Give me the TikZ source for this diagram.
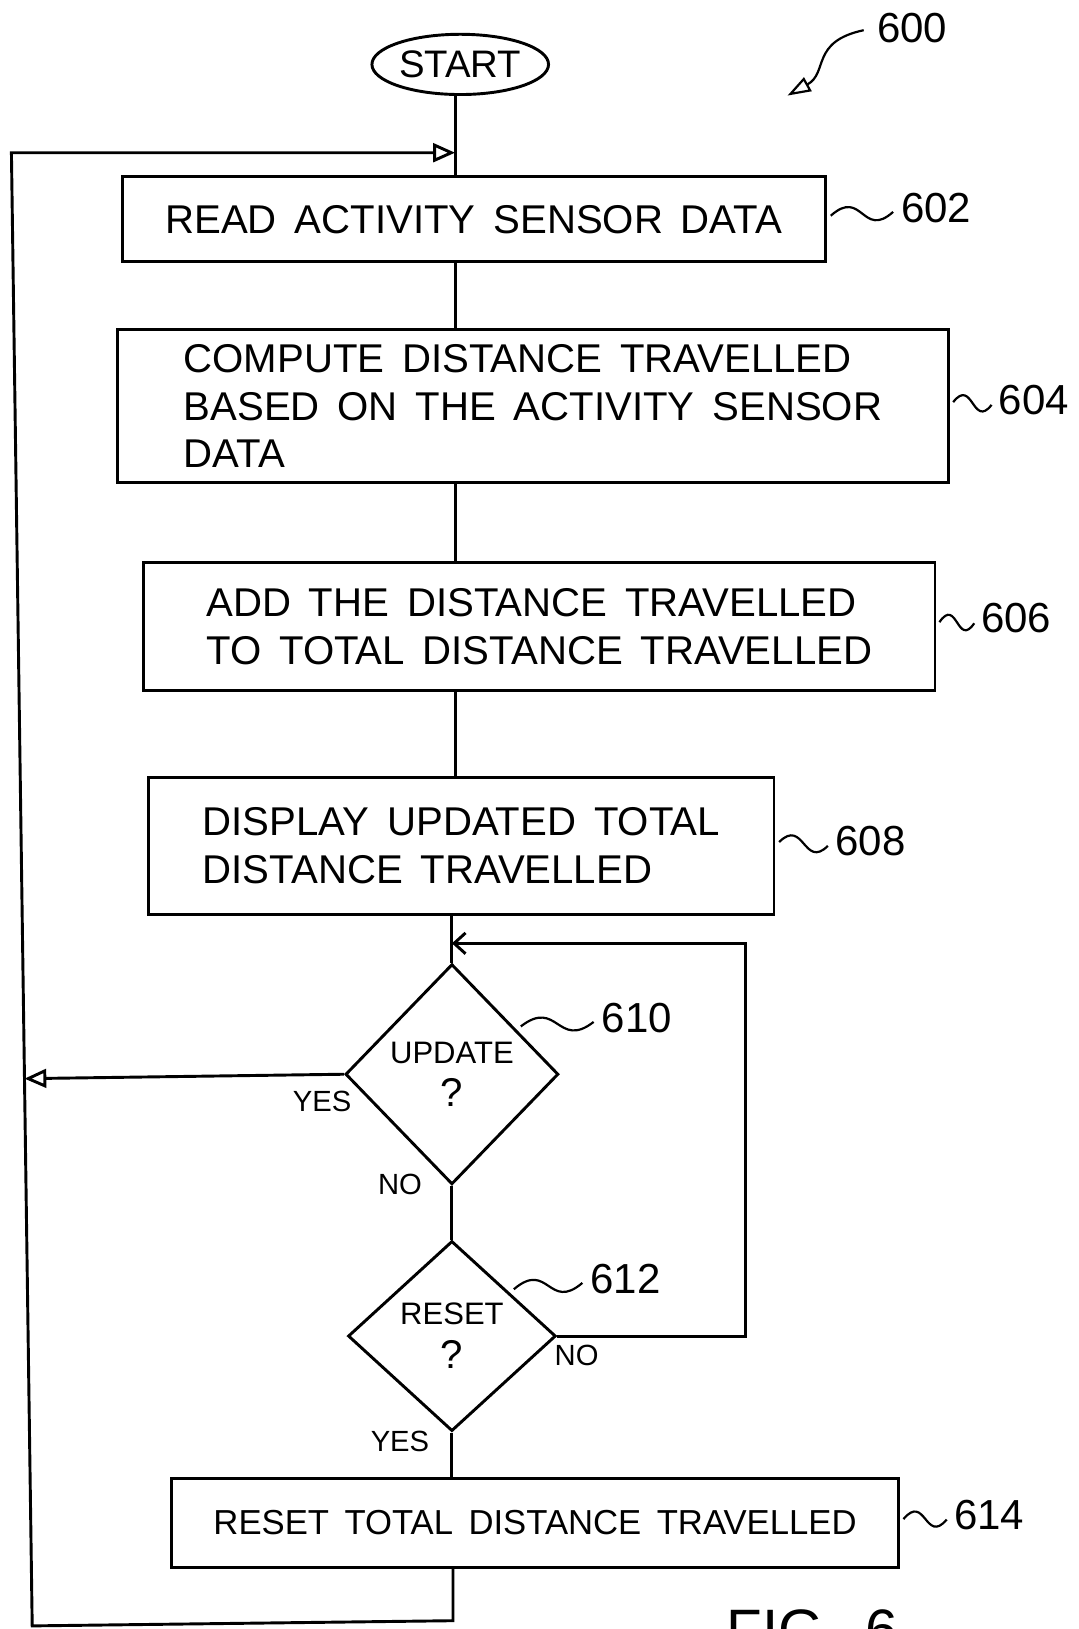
\documentclass[tikz,border=0pt]{standalone}
\usepackage{fontspec}
\setmainfont{Liberation Sans}[WordSpace=1.6]
\usetikzlibrary{arrows.meta, calc, shapes.geometric, positioning}

\begin{document}
\begin{tikzpicture}[
  line width=1.6pt,
  stepbox/.style={draw, rectangle, inner sep=0pt, align=left, font=\fontsize{22}{26}\selectfont},
  decision/.style={draw, diamond, inner sep=0pt, align=center, font=\fontsize{17}{24}\selectfont},
  refnum/.style={font=\fontsize{23}{26}\selectfont, inner sep=1pt},
  answer/.style={font=\fontsize{16}{18}\selectfont, inner sep=0pt},
  leader/.style={line width=1.2pt, shorten <=0.1cm, shorten >=0.12cm,
    to path={.. controls ($(\tikztostart)!0.5!(\tikztotarget)+(0,0.5)$) and ($(\tikztostart)!0.5!(\tikztotarget)-(0,0.5)$) .. (\tikztotarget)}},
  loopback/.style={-{Triangle[open, length=0.42cm, width=0.36cm]}},
  backtip/.style={-{Straight Barb[length=0.22cm, width=0.4cm]}}
  ]
    % frame
    \useasboundingbox (0,0) rectangle (20.76,-31.36);
    \clip (0,0) rectangle (20.76,-31.36);

    \coordinate (spine) at (8.76,0);
    \coordinate (loopTL) at (0.22,-2.94);
    \coordinate (loopBL) at (0.62,-31.3);
    \coordinate (loopBR) at (8.72,-31.2);
    \coordinate (backR) at (14.36,-18.16);
    \coordinate (p600) at (15.16,-1.84);

% blocchi
\node[draw, ellipse, minimum width=3.4cm, minimum height=1.16cm, inner sep=0pt, font=\fontsize{21}{24}\selectfont] (start) at (8.86,-1.24) {START};

\node[stepbox, minimum width=13.54cm, minimum height=1.64cm] (b602) at (9.12,-4.22) {READ ACTIVITY SENSOR DATA};
\node[stepbox, minimum width=16.0cm, minimum height=2.94cm] (b604) at (10.26,-7.82) {COMPUTE DISTANCE TRAVELLED\\BASED ON THE ACTIVITY SENSOR\\DATA};
\node[stepbox, minimum width=15.24cm, minimum height=2.46cm] (b606) at (10.38,-12.06) {ADD THE DISTANCE TRAVELLED\\TO TOTAL DISTANCE TRAVELLED};
\node[stepbox, minimum width=12.04cm, minimum height=2.64cm] (b608) at (8.88,-16.28) {DISPLAY UPDATED TOTAL\\DISTANCE TRAVELLED};

\node[decision, minimum width=4.1cm, minimum height=4.24cm] (d610) at (8.7,-20.68) {UPDATE\\{\fontsize{22}{24}\selectfont ?}};
\node[decision, minimum width=4.0cm, minimum height=3.66cm] (d612) at (8.7,-25.72) {RESET\\{\fontsize{22}{24}\selectfont ?}};

\node[stepbox, minimum width=14.0cm, minimum height=1.7cm, font=\fontsize{19}{22}\selectfont] (b614) at (10.3,-29.32) {RESET TOTAL DISTANCE TRAVELLED};

    \coordinate (entry) at (spine |- loopTL);
    \coordinate (entry2) at (d610.north |- backR);

% linee
\draw (start.south -| spine) -- (b602.north -| spine);
\draw (b602.south -| spine) -- (b604.north -| spine);
\draw (b604.south -| spine) -- (b606.north -| spine);
\draw (b606.south -| spine) -- (b608.north -| spine);
\draw (b608.south -| d610.north) -- (d610.north);
\draw (d610.south) -- (d612.north);
\draw (d612.south) -- (d612.south |- b614.north);

% ritorni
\draw[loopback] (b614.south -| loopBR) -- (loopBR) -- (loopBL) -- (loopTL) -- (entry);
\draw[loopback] (d610.west) -- ($(loopTL)!(d610.west)!(loopBL)$);
\draw[backtip] (d612.east) -- (d612.east -| backR) -- (backR) -- (entry2);

% si / no
\node[answer] (yes610) at (6.2,-21.2) {YES};
\node[answer] (no610) at (7.7,-22.8) {NO};
\node[answer] (no612) at (11.1,-26.1) {NO};
\node[answer] (yes612) at (7.7,-27.74) {YES};

% numeri
\node[refnum] (l600) at (17.56,-0.54) {600};
\node[refnum] (l602) at (18.02,-4.0) {602};
\node[refnum] (l604) at (19.9,-7.7) {604};
\node[refnum] (l606) at (19.56,-11.9) {606};
\node[refnum] (l608) at (16.76,-16.2) {608};
\node[refnum] (l610) at (12.26,-19.6) {610};
\node[refnum] (l612) at (12.04,-24.62) {612};
\node[refnum] (l614) at (19.04,-29.16) {614};

\draw[leader] (b602.east) to (l602.west);
\draw[leader] (b604.east) to (l604.west);
\draw[leader] (b606.east) to (l606.west);
\draw[leader] (b608.east) to (l608.west);
\draw[leader] ($(d610.north)!0.6!(d610.east)$) to (l610.west);
\draw[leader] ($(d612.north)!0.55!(d612.east)$) to (l612.west);
\draw[leader] (b614.east) to (l614.west);
\draw[line width=1.2pt, -{Triangle[open, length=0.45cm, width=0.3cm]}, shorten <=0.2cm] (l600.west) .. controls (15.6,-0.8) and (15.95,-1.4) .. (p600);

% didascalia
\node[font=\fontsize{32}{36}\selectfont, inner sep=0pt, anchor=north] (fig) at (15.64,-30.96) {FIG. 6};

\end{tikzpicture}
\end{document}
